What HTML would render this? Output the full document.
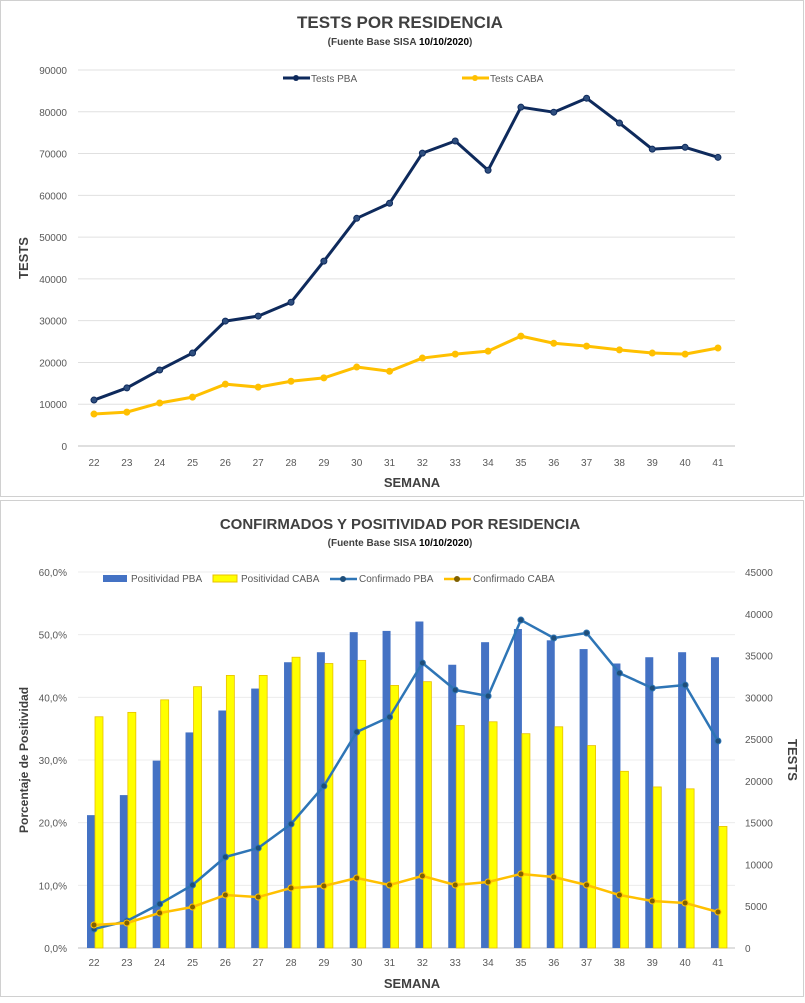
<!DOCTYPE html>
<html><head><meta charset="utf-8"><style>
body{margin:0;background:#fff;font-family:"Liberation Sans",sans-serif}
svg text{font-family:"Liberation Sans",sans-serif}
</style></head><body>
<svg id="s" width="805" height="998" xmlns="http://www.w3.org/2000/svg">
<rect x="0.5" y="0.5" width="803" height="496" fill="#fff" stroke="#d0d0d0"/>
<rect x="0.5" y="500.5" width="803" height="496" fill="#fff" stroke="#d0d0d0"/>
<text x="400" y="28" text-anchor="middle" font-size="17" font-weight="bold" fill="#404040">TESTS POR RESIDENCIA</text>
<text x="400" y="45" text-anchor="middle" font-size="10" font-weight="bold" fill="#404040">(Fuente Base SISA  <tspan fill="#000">10/10/2020</tspan>)</text>
<text x="412" y="487" text-anchor="middle" font-size="13" font-weight="bold" fill="#404040">SEMANA</text>
<text transform="translate(28,258) rotate(-90)" text-anchor="middle" font-size="13" font-weight="bold" fill="#404040">TESTS</text>
<text x="400" y="529" text-anchor="middle" font-size="15" font-weight="bold" fill="#404040">CONFIRMADOS Y POSITIVIDAD POR RESIDENCIA</text>
<text x="400" y="546" text-anchor="middle" font-size="10" font-weight="bold" fill="#404040">(Fuente Base SISA  <tspan fill="#000">10/10/2020</tspan>)</text>
<text x="412" y="988" text-anchor="middle" font-size="13" font-weight="bold" fill="#404040">SEMANA</text>
<text transform="translate(28,760) rotate(-90)" text-anchor="middle" font-size="12" font-weight="bold" fill="#404040">Porcentaje de Positividad</text>
<text transform="translate(788,760) rotate(90)" text-anchor="middle" font-size="13" font-weight="bold" fill="#404040">TESTS</text>
<g>
<line x1="283" y1="78" x2="310" y2="78" stroke="#0e2a5c" stroke-width="3"/><circle cx="296" cy="78" r="3" fill="#0e2a5c"/>
<text x="311" y="82" font-size="10" fill="#595959">Tests PBA</text>
<line x1="462" y1="78" x2="489" y2="78" stroke="#ffc000" stroke-width="3"/><circle cx="475" cy="78" r="3" fill="#ffc000"/>
<text x="490" y="82" font-size="10" fill="#595959">Tests CABA</text>
</g>
<g>
<rect x="103" y="575" width="24" height="7" fill="#4472c4"/><text x="131" y="582" font-size="10" fill="#595959">Positividad PBA</text>
<rect x="213" y="575" width="24" height="7" fill="#ffff00" stroke="#e8c000"/><text x="241" y="582" font-size="10" fill="#595959">Positividad CABA</text>
<line x1="330" y1="579" x2="357" y2="579" stroke="#2e75b6" stroke-width="2.5"/><circle cx="343" cy="579" r="3" fill="#1f4e79"/><text x="359" y="582" font-size="10" fill="#595959">Confirmado PBA</text>
<line x1="444" y1="579" x2="471" y2="579" stroke="#ffc000" stroke-width="2.5"/><circle cx="457" cy="579" r="3" fill="#7f6000"/><text x="473" y="582" font-size="10" fill="#595959">Confirmado CABA</text>
</g>
<g id="g"></g>
</svg>
<script>
const weeks=[22,23,24,25,26,27,28,29,30,31,32,33,34,35,36,37,38,39,40,41];
const testsPBA=[11000,13900,18200,22250,29900,31100,34400,44250,54500,58100,70100,73000,66000,81100,79900,83250,77300,71050,71500,69100];
const testsCABA=[7650,8100,10300,11700,14800,14100,15500,16300,18900,17900,21050,22000,22700,26300,24600,23900,23000,22250,22000,23450];
const posPBA=[21.2,24.4,29.9,34.4,37.9,41.4,45.6,47.2,50.4,50.6,52.1,45.2,48.8,50.9,49.1,47.7,45.4,46.4,47.2,46.4];
const posCABA=[36.9,37.6,39.6,41.7,43.5,43.5,46.4,45.4,45.9,41.9,42.5,35.5,36.1,34.2,35.3,32.3,28.2,25.7,25.4,19.4];
const confPBA=[2270,3230,5270,7540,10890,11970,14840,19390,25850,27650,34110,30880,30160,39250,37100,37700,32900,31100,31480,24770];
const confCABA=[2750,2990,4190,4910,6340,6100,7180,7420,8380,7540,8620,7540,7900,8860,8500,7540,6340,5630,5390,4310];
const topTicks=[0,10000,20000,30000,40000,50000,60000,70000,80000,90000];
const leftTicks=[0,10,20,30,40,50,60];
const rightTicks=[0,5000,10000,15000,20000,25000,30000,35000,40000,45000];
const NS="http://www.w3.org/2000/svg",G=document.getElementById('g');
function el(t,a,txt){const e=document.createElementNS(NS,t);for(const k in a)e.setAttribute(k,a[k]);if(txt!=null)e.textContent=txt;G.appendChild(e);return e;}
const xi=i=>94+i*32.84;
const yTop=v=>446-v/90000*376;
const yL=v=>948-v/60*376;
const yR=v=>948-v/45000*376;
// top grid
topTicks.forEach(t=>{const y=yTop(t);
 const l=el('line',{x1:78,x2:735,y1:y,y2:y,stroke:t===0?'#bfbfbf':'#e0e0e0'});
 
 
 const tx=el('text',{x:67,y:y+4,'text-anchor':'end','font-size':10,fill:'#595959'},t);
 
 });
weeks.forEach((w,i)=>{
 const t=el('text',{x:xi(i),y:466,'text-anchor':'middle','font-size':10,fill:'#595959'},w);
 
 
 const t2=el('text',{x:xi(i),y:966,'text-anchor':'middle','font-size':10,fill:'#595959'},w);
 
 });
function line(vals,yf,col,w,dot,name){
 const p=el('polyline',{points:vals.map((v,i)=>xi(i)+','+yf(v)).join(' '),fill:'none',stroke:col,'stroke-width':w,'stroke-linejoin':'round'});
 
 
 vals.forEach((v,i)=>{const c=el('circle',{cx:xi(i),cy:yf(v),r:3,fill:dot,stroke:col,'stroke-width':1});
 
 });}
line(testsCABA,yTop,'#ffc000',3,'#ffc000','tests-caba');
line(testsPBA,yTop,'#0e2a5c',3,'#2f4f7f','tests-pba');
// bottom grid
leftTicks.forEach(t=>{const y=yL(t);
 const l=el('line',{x1:78,x2:735,y1:y,y2:y,stroke:t===0?'#bfbfbf':'#ececec'});
 
 
 const tx=el('text',{x:67,y:y+4,'text-anchor':'end','font-size':10,fill:'#595959'},t.toFixed(1).replace('.',',')+'%');
 
 });
rightTicks.forEach(t=>{const tx=el('text',{x:745,y:yR(t)+4,'font-size':10,fill:'#595959'},t);
 
 });
weeks.forEach((w,i)=>{
 const b=el('rect',{x:xi(i)-7,y:yL(posPBA[i]),width:8,height:948-yL(posPBA[i]),fill:'#4472c4'});
 
 
 const c=el('rect',{x:xi(i)+1,y:yL(posCABA[i]),width:8,height:948-yL(posCABA[i]),fill:'#ffff00',stroke:'#e8c000','stroke-width':0.8});
 
 });
line(confPBA,yR,'#2e75b6',2.5,'#1f4e79','confirmado-pba');
line(confCABA,yR,'#ffc000',2.5,'#7f6000','confirmado-caba');
</script>
</body></html>
